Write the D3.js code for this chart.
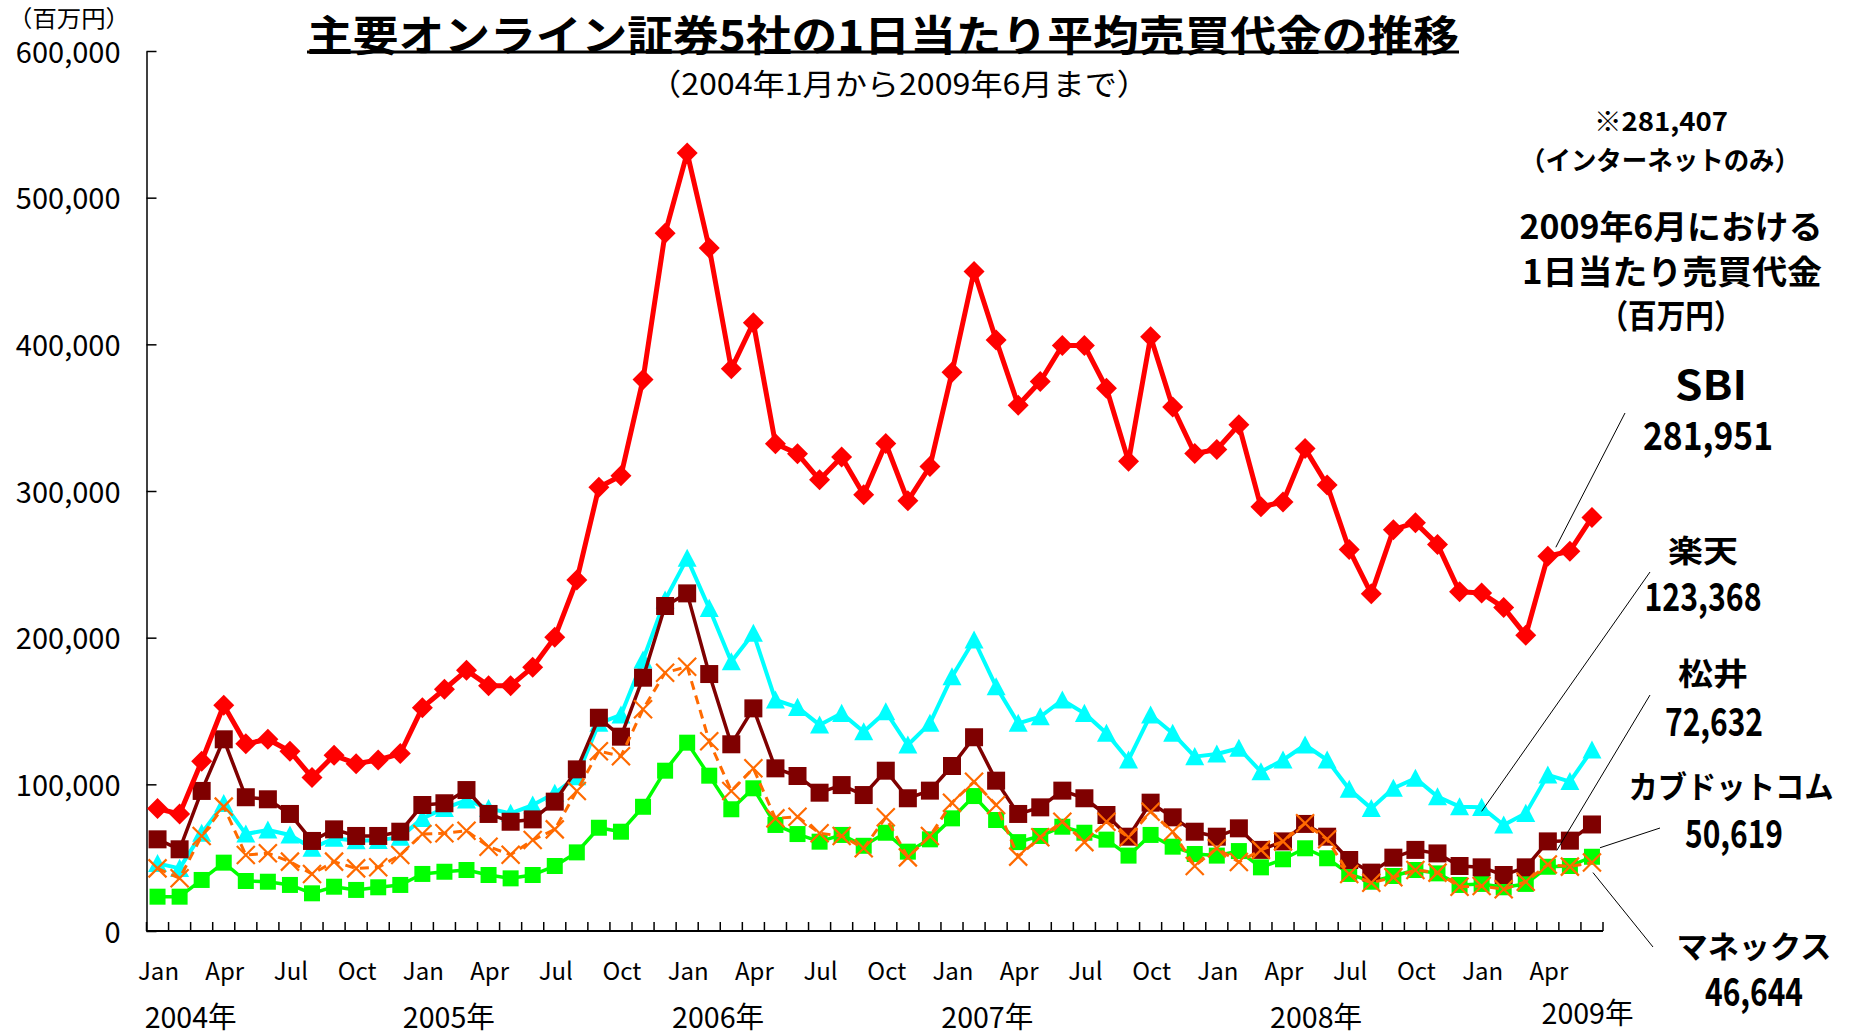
<!DOCTYPE html>
<html>
<head>
<meta charset="utf-8">
<script src="https://cdnjs.cloudflare.com/ajax/libs/d3/7.8.5/d3.min.js"></script>
<style>
body { margin: 0; background: #fff; }
svg text { font-family: "Noto Sans CJK JP", "Liberation Sans", sans-serif; fill: #000; }
</style>
</head>
<body>
<div class="chart"></div>
<script>

// months Jan 2004 .. Jun 2009
var months = [
  "2004-01","2004-02","2004-03","2004-04","2004-05","2004-06","2004-07","2004-08","2004-09","2004-10","2004-11","2004-12",
  "2005-01","2005-02","2005-03","2005-04","2005-05","2005-06","2005-07","2005-08","2005-09","2005-10","2005-11","2005-12",
  "2006-01","2006-02","2006-03","2006-04","2006-05","2006-06","2006-07","2006-08","2006-09","2006-10","2006-11","2006-12",
  "2007-01","2007-02","2007-03","2007-04","2007-05","2007-06","2007-07","2007-08","2007-09","2007-10","2007-11","2007-12",
  "2008-01","2008-02","2008-03","2008-04","2008-05","2008-06","2008-07","2008-08","2008-09","2008-10","2008-11","2008-12",
  "2009-01","2009-02","2009-03","2009-04","2009-05","2009-06"
];

// 1日当たり平均売買代金 (百万円)
var sbi = [
  83500, 79700, 115700, 153900, 127600, 130700, 122600, 104700, 119800, 114100, 116600, 121000,
  152300, 164800, 177700, 167300, 167300, 179900, 200200, 239300, 302600, 310400, 376100, 475700,
  530500, 465700, 383300, 414700, 332300, 325400, 307600, 323200, 297500, 332400, 293300, 316700,
  380900, 449600, 403000, 358500, 374700, 399200, 399200, 370100, 320200, 405100, 357200, 325600,
  328300, 345100, 289200, 292500, 328900, 304100, 260100, 229900, 273600, 278400, 263600, 231300,
  230400, 220500, 201600, 255500, 259000, 281951
];
var rakuten = [
  46100, 42700, 66600, 87000, 66100, 68900, 65500, 56400, 63200, 61600, 61800, 64000,
  76800, 83600, 89300, 83600, 80200, 85900, 93900, 105200, 141600, 147300, 184800, 225700,
  254100, 220000, 183600, 203000, 157500, 152500, 140500, 148400, 135900, 149500, 126800, 141600,
  173400, 198400, 166600, 141600, 146100, 157500, 148400, 134800, 116600, 147300, 134800, 118900,
  120700, 124600, 108600, 116600, 126800, 116600, 96600, 83600, 97300, 104100, 91600, 84800,
  84300, 72300, 80200, 106400, 101900, 123368
];
var matsui = [
  62500, 55700, 95500, 130700, 91200, 89800, 79800, 61400, 69300, 64800, 64800, 67700,
  85900, 87100, 96100, 79800, 74500, 76100, 88200, 110200, 145400, 132500, 172700, 221600,
  230200, 175200, 127300, 151800, 110900, 105700, 94300, 99500, 92700, 109300, 90500, 95700,
  112500, 132100, 102500, 79800, 84300, 95700, 90500, 79100, 64300, 87500, 77500, 67700,
  64300, 70000, 55300, 61100, 73000, 64300, 48400, 39800, 50000, 55300, 52900, 44300,
  43400, 38200, 43400, 61100, 61600, 72632
];
var kabucom = [
  23400, 23400, 34800, 46600, 34100, 33600, 31400, 25700, 30200, 28000, 29800, 31400,
  38900, 40400, 41600, 38200, 35900, 38200, 44300, 53600, 70400, 67700, 84700, 109300,
  128400, 105900, 83000, 97300, 72300, 66100, 60900, 65500, 58100, 67000, 54100, 62500,
  76800, 92000, 75700, 60600, 64800, 71100, 67000, 62300, 51400, 65500, 57500, 52500,
  51400, 54500, 43400, 48900, 56400, 49600, 38900, 33600, 37500, 41600, 39300, 31400,
  32100, 29800, 32100, 43800, 44300, 50619
];
var monex = [
  42700, 35900, 64800, 84800, 51800, 53000, 47300, 38900, 47300, 42700, 43400, 51800,
  66100, 66600, 68400, 57500, 52000, 62000, 69300, 95500, 122600, 119200, 151200, 176100,
  180200, 129400, 95500, 110900, 76800, 77900, 66600, 64800, 56400, 77500, 50200, 64800,
  87500, 101800, 85900, 50700, 63900, 74500, 60600, 74500, 63900, 81300, 67700, 44300,
  56400, 47000, 55300, 61100, 73400, 62500, 38900, 32900, 36600, 41600, 39800, 30200,
  30700, 28400, 33600, 45300, 43900, 46644
];

var yTicks = [0, 100000, 200000, 300000, 400000, 500000, 600000];
var monthTickLabels = ["Jan", "Apr", "Jul", "Oct"];
var yearLabels = ["2004年", "2005年", "2006年", "2007年", "2008年", "2009年"];
var companyNames = ["SBI", "楽天", "松井", "カブドットコム", "マネックス"];
var lastValues = ["281,951", "123,368", "72,632", "50,619", "46,644"];


var svg = d3.select("div.chart")
            .append("svg")
            .attr("width", 1858)
            .attr("height", 1035);

var x = d3.scaleBand()
    .domain(months)
    .range([146.5, 1603])
    .paddingInner(0)
    .paddingOuter(0);

var y = d3.scaleLinear()
    .domain([0, 600000])
    .range([931, 51]);

function cx(m) { return x(m) + x.bandwidth() / 2; }


//title + subtitle
var title = svg.append("text")
    .attr("x", 883).attr("y", 32)
    .attr("text-anchor", "middle")
    .attr("dominant-baseline", "central")
    .attr("font-size", 42)
    .attr("font-weight", "bold")
    .attr("textLength", 1152)
    .attr("lengthAdjust", "spacingAndGlyphs")
    .text("主要オンライン証券5社の1日当たり平均売買代金の推移");
var tb = title.node().getBBox();
svg.append("line")
    .attr("x1", tb.x).attr("x2", tb.x + tb.width)
    .attr("y1", 52).attr("y2", 52)
    .attr("stroke", "#000").attr("stroke-width", 3);

svg.append("text")
    .attr("x", 899).attr("y", 82)
    .attr("text-anchor", "middle")
    .attr("dominant-baseline", "central")
    .attr("font-size", 30)
    .attr("textLength", 500)
    .attr("lengthAdjust", "spacingAndGlyphs")
    .text("（2004年1月から2009年6月まで）");

svg.append("text")
    .attr("x", 8).attr("y", 17)
    .attr("dominant-baseline", "central")
    .attr("font-size", 23)
    .attr("textLength", 122)
    .attr("lengthAdjust", "spacingAndGlyphs")
    .text("（百万円）");


//y axis, ticks point inwards
var yAxis = d3.axisLeft(y)
    .tickValues(yTicks)
    .tickFormat(d3.format(","))
    .tickSizeInner(-10)
    .tickSizeOuter(0)
    .tickPadding(26);

var gy = svg.append("g")
    .attr("transform", "translate(146.5,0)")
    .call(yAxis);
gy.select(".domain").attr("stroke", "#000").attr("stroke-width", 1.5);
gy.selectAll(".tick line").attr("stroke", "#000").attr("stroke-width", 1.5);
gy.selectAll(".tick text")
    .attr("font-family", "'Liberation Sans', Arial, sans-serif")
    .attr("font-size", 29)
    .attr("dy", "0.38em");


//x axis: a tick at every month boundary
var edges = months.map(function(m) { return x(m); }).concat([x.range()[1]]);
svg.append("line")
    .attr("x1", 146.5).attr("x2", 1603)
    .attr("y1", 931).attr("y2", 931)
    .attr("stroke", "#000").attr("stroke-width", 2);
svg.selectAll(".xtick")
    .data(edges)
    .enter()
    .append("line")
    .attr("class", "xtick")
    .attr("x1", function(d) { return d; })
    .attr("x2", function(d) { return d; })
    .attr("y1", 931).attr("y2", 922)
    .attr("stroke", "#000").attr("stroke-width", 1.5);

var labelled = months.filter(function(m, i) { return i % 3 == 0; });
svg.selectAll(".mlabel")
    .data(labelled)
    .enter()
    .append("text")
    .attr("class", "mlabel")
    .attr("x", function(d) { return cx(d) + 1; })
    .attr("y", 969)
    .attr("text-anchor", "middle")
    .attr("dominant-baseline", "central")
    .attr("font-family", "'Liberation Sans', Arial, sans-serif")
    .attr("font-size", 24)
    .text(function(d, i) { return monthTickLabels[i % 4]; });

//year labels are loose text boxes in the original, offset in months from each Jan
var yearShift = [2.0, 1.7, 1.9, 2.1, 5.0, 5.3];
var yearY = [1015, 1015, 1015, 1015, 1015, 1011];
svg.selectAll(".ylabel")
    .data(yearLabels)
    .enter()
    .append("text")
    .attr("class", "ylabel")
    .attr("x", function(d, i) { return x(months[i * 12]) + yearShift[i] * x.bandwidth(); })
    .attr("y", function(d, i) { return yearY[i]; })
    .attr("text-anchor", "middle")
    .attr("dominant-baseline", "central")
    .attr("font-size", 29)
    .attr("textLength", 92)
    .attr("lengthAdjust", "spacingAndGlyphs")
    .text(function(d) { return d; });


//series, drawn back to front
var series = [
  {name: "楽天", values: rakuten, color: "#00ffff", width: 4, marker: "triangle", size: 9.5},
  {name: "カブドットコム", values: kabucom, color: "#00ff00", width: 3.5, marker: "square", size: 8},
  {name: "松井", values: matsui, color: "#7f0000", width: 3.5, marker: "square", size: 9},
  {name: "マネックス", values: monex, color: "#ff6a00", width: 3, marker: "x", size: 9, dash: "9,6"},
  {name: "SBI", values: sbi, color: "#ff0000", width: 5, marker: "diamond", size: 10.5}
];

function markerPath(type, r) {
  if (type == "diamond") return "M0," + (-r) + "L" + r + ",0L0," + r + "L" + (-r) + ",0Z";
  if (type == "square") return "M" + (-r) + "," + (-r) + "H" + r + "V" + r + "H" + (-r) + "Z";
  if (type == "triangle") return "M0," + (-r) + "L" + r + "," + (r * 0.9) + "L" + (-r) + "," + (r * 0.9) + "Z";
  return "M" + (-r) + "," + (-r) + "L" + r + "," + r + "M" + r + "," + (-r) + "L" + (-r) + "," + r;
}

var line = d3.line()
    .x(function(d, i) { return cx(months[i]); })
    .y(function(d) { return y(d); });

series.forEach(function(s) {
  var g = svg.append("g").attr("class", "series");
  g.append("path")
      .datum(s.values)
      .attr("d", line)
      .attr("fill", "none")
      .attr("stroke", s.color)
      .attr("stroke-width", s.width)
      .attr("stroke-linejoin", "round")
      .attr("stroke-dasharray", s.dash || null);

  g.selectAll(".pt")
      .data(s.values)
      .enter()
      .append("path")
      .attr("class", "pt")
      .attr("transform", function(d, i) { return "translate(" + cx(months[i]) + "," + y(d) + ")"; })
      .attr("d", markerPath(s.marker, s.size))
      .attr("fill", s.marker == "x" ? "none" : s.color)
      .attr("stroke", s.marker == "x" ? s.color : "none")
      .attr("stroke-width", 2.2);
});


//right hand notes
var notes = [
  {t: "※281,407", x: 1661, y: 119, size: 26, len: 134},
  {t: "（インターネットのみ）", x: 1660, y: 158, size: 26, len: 280},
  {t: "2009年6月における", x: 1671, y: 225, size: 33, len: 303},
  {t: "1日当たり売買代金", x: 1672, y: 270, size: 33, len: 300},
  {t: "（百万円）", x: 1671, y: 314, size: 33, len: 143}
];
svg.selectAll(".note")
    .data(notes)
    .enter()
    .append("text")
    .attr("class", "note")
    .attr("x", function(d) { return d.x; })
    .attr("y", function(d) { return d.y; })
    .attr("text-anchor", "middle")
    .attr("dominant-baseline", "central")
    .attr("font-weight", "bold")
    .attr("font-size", function(d) { return d.size; })
    .attr("textLength", function(d) { return d.len; })
    .attr("lengthAdjust", "spacingAndGlyphs")
    .text(function(d) { return d.t; });


//callouts: name, last value and a leader line to one of the points
// order follows companyNames; s = series index, m = month index the leader points at
var callouts = [
  {s: 4, m: 63, nx: 1711, ny: 382, nlen: 72, vx: 1708, vy: 433, vlen: 130, lx: 1625, ly: 413, dx: 8, dy: -9},
  {s: 0, m: 60, nx: 1703, ny: 548, nlen: 70, vx: 1703, vy: 594, vlen: 117, lx: 1650, ly: 572, dx: 0, dy: 4},
  {s: 2, m: 63, nx: 1713, ny: 671, nlen: 70, vx: 1714, vy: 719, vlen: 98, lx: 1650, ly: 695, dx: 9, dy: 9},
  {s: 1, m: 65, nx: 1731, ny: 784, nlen: 205, vx: 1734, vy: 831, vlen: 98, lx: 1660, ly: 828, dx: 8, dy: -9},
  {s: 3, m: 65, nx: 1754, ny: 944, nlen: 155, vx: 1754, vy: 989, vlen: 98, lx: 1653, ly: 947, dx: 1, dy: 10}
];

callouts.forEach(function(c, i) {
  var s = series[c.s];
  svg.append("line")
      .attr("x1", c.lx).attr("y1", c.ly)
      .attr("x2", cx(months[c.m]) + c.dx)
      .attr("y2", y(s.values[c.m]) + c.dy)
      .attr("stroke", "#000").attr("stroke-width", 1);

  svg.append("text")
      .attr("x", c.nx).attr("y", c.ny)
      .attr("text-anchor", "middle")
      .attr("dominant-baseline", "central")
      .attr("font-weight", "bold")
      .attr("font-size", i == 0 ? 41 : 31)
      .attr("font-family", i == 0 ? "'Liberation Sans', Arial, sans-serif" : null)
      .attr("textLength", c.nlen)
      .attr("lengthAdjust", "spacingAndGlyphs")
      .text(companyNames[i]);

  // digits in a latin face, its line box is shorter than the CJK one
  svg.append("text")
      .attr("x", c.vx).attr("y", c.vy)
      .attr("text-anchor", "middle")
      .attr("dominant-baseline", "central")
      .attr("font-family", "'Liberation Sans', Arial, sans-serif")
      .attr("font-weight", "bold")
      .attr("font-size", 39)
      .attr("textLength", c.vlen)
      .attr("lengthAdjust", "spacingAndGlyphs")
      .text(lastValues[i]);
});

</script>
</body>
</html>
